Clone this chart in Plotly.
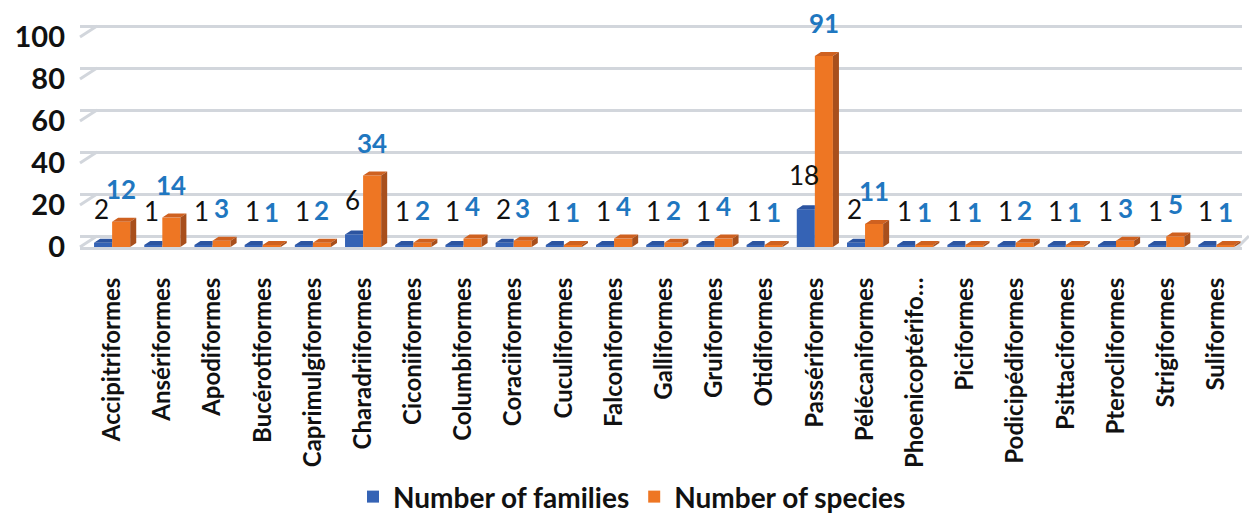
import plotly.graph_objects as go

# Bird orders with the number of families and species recorded in each
orders = [
    "Accipitriformes", "Ansériformes", "Apodiformes", "Bucérotiformes",
    "Caprimulgiformes", "Charadriiformes", "Ciconiiformes", "Columbiformes",
    "Coraciiformes", "Cuculiformes", "Falconiformes", "Galliformes",
    "Gruiformes", "Otidiformes", "Passériformes", "Pélécaniformes",
    "Phoenicoptériformes", "Piciformes", "Podicipédiformes", "Psittaciformes",
    "Pterocliformes", "Strigiformes", "Suliformes",
]
tick_labels = [o if len(o) <= 17 else o[:15] + "…" for o in orders]
families = [2, 1, 1, 1, 1, 6, 1, 1, 2, 1, 1, 1, 1, 1, 18, 2, 1, 1, 1, 1, 1, 1, 1]
species = [12, 14, 3, 1, 2, 34, 2, 4, 3, 1, 4, 2, 4, 1, 91, 11, 1, 1, 2, 1, 3, 5, 1]
y_ticks = [0, 20, 40, 60, 80, 100]

FONT = "Lato"
W, H = 1249, 516
ML, MR, MT, MB = 80, 7, 20, 269
PX_PER_UNIT = 2.1
X_RANGE = [-0.64, 22.51]
Y_RANGE = [0, (H - MT - MB) / PX_PER_UNIT]

BAR_W = 0.36      # width of each front face, in category units
DX = 0.12         # depth offset of the 3-D faces, category units
DY = 1.9          # depth offset of the 3-D faces, value units
WALL_DX, WALL_DY = 17, 11   # back wall offset from the front plane, px

BLUE, BLUE_TOP = "#3563B5", "#2C54A0"
ORANGE, ORANGE_TOP, ORANGE_SIDE = "#EE7623", "#CF6120", "#A84F1C"
LABEL_BLUE = "#1F77C0"
GRID = "#D2D6DC"

xs = list(range(len(orders)))
fig = go.Figure()

fig.add_bar(x=xs, y=families, width=BAR_W, offset=-BAR_W,
            marker=dict(color=BLUE, line=dict(width=0)),
            name="Number of families")
fig.add_bar(x=xs, y=species, width=BAR_W, offset=0,
            marker=dict(color=ORANGE, line=dict(width=0)),
            name="Number of species")


def faces(values, left, clip_right):
    """Top and side faces of each bar as fill polygons separated by gaps."""
    tx, ty, sx, sy = [], [], [], []
    for i, v in enumerate(values):
        x0 = i + left
        x1 = x0 + BAR_W
        if clip_right:
            tx += [x0, x1, x1, x0 + DX, x0, None]
            ty += [v, v, v + DY, v + DY, v, None]
        else:
            tx += [x0, x1, x1 + DX, x0 + DX, x0, None]
            ty += [v, v, v + DY, v + DY, v, None]
            sx += [x1, x1 + DX, x1 + DX, x1, x1, None]
            sy += [0, DY, v + DY, v, 0, None]
    return tx, ty, sx, sy


btx, bty, _, _ = faces(families, -BAR_W, True)
otx, oty, osx, osy = faces(species, 0, False)
for fx, fy, col in [(btx, bty, BLUE_TOP), (otx, oty, ORANGE_TOP), (osx, osy, ORANGE_SIDE)]:
    fig.add_scatter(x=fx, y=fy, mode="lines", fill="toself", fillcolor=col,
                    line=dict(width=0, color=col), hoverinfo="skip",
                    showlegend=False, connectgaps=False)

# Empty trace that keeps the back-wall grid axis alive
fig.add_scatter(x=[None], y=[None], yaxis="y2", showlegend=False, hoverinfo="skip")

# Value labels above each bar
for i, (f, s) in enumerate(zip(families, species)):
    fig.add_annotation(x=i - BAR_W / 2 - 0.03, y=f, yshift=34, text=str(f),
                       showarrow=False, yanchor="middle",
                       font=dict(family=FONT, size=26, color="#111111"))
    fig.add_annotation(x=i + BAR_W / 2, y=s, yshift=33, text=f"<b>{s}</b>",
                       showarrow=False, yanchor="middle",
                       font=dict(family=FONT, size=26, color=LABEL_BLUE))

# Slanted wall/floor edges joining the front plane to the back wall
plot_w = W - ML - MR
plot_h = H - MT - MB
back_x = WALL_DX / plot_w
back_y = WALL_DY / plot_h
span = Y_RANGE[1] - Y_RANGE[0]
for v in y_ticks:
    yf = (v - Y_RANGE[0]) / span
    fig.add_shape(type="line", xref="paper", yref="paper",
                  x0=0, x1=back_x, y0=yf, y1=yf + back_y,
                  line=dict(color=GRID, width=3), layer="between")
floor_end = (1237 - ML) / plot_w
fig.add_shape(type="line", xref="paper", yref="paper",
              x0=floor_end, x1=floor_end + back_x * 0.7, y0=-0.004, y1=back_y,
              line=dict(color=GRID, width=3), layer="between")

shift = WALL_DY / PX_PER_UNIT
fig.update_layout(
    width=W, height=H, autosize=False,
    margin=dict(l=ML, r=MR, t=MT, b=MB, autoexpand=False),
    plot_bgcolor="white", paper_bgcolor="white",
    barmode="overlay",
    font=dict(family=FONT, color="#111111"),
    legend=dict(orientation="h", xref="container", yref="container",
                x=0.506, xanchor="center", y=0.037, yanchor="middle",
                font=dict(family=FONT, size=28, color="#111111", weight="bold"),
                itemwidth=30, traceorder="normal"),
    xaxis=dict(range=X_RANGE, tickmode="array", tickvals=xs, ticktext=tick_labels,
               tickangle=-90, showgrid=False, zeroline=False,
               showline=True, linecolor=GRID, linewidth=3, layer="below traces",
               ticks="", ticklabelstandoff=18, automargin=False,
               tickfont=dict(family=FONT, size=24, color="#111111", weight="bold")),
    yaxis=dict(range=Y_RANGE, tickmode="array", tickvals=y_ticks,
               showgrid=False, zeroline=False, showline=False, ticks="",
               ticklabelstandoff=14, automargin=False,
               tickfont=dict(family=FONT, size=29, color="#111111", weight="bold")),
    yaxis2=dict(overlaying="y", range=[Y_RANGE[0] - shift, Y_RANGE[1] - shift],
                tickmode="array", tickvals=y_ticks, showticklabels=False,
                showgrid=True, gridcolor=GRID, gridwidth=3,
                zeroline=False, showline=False, ticks="", automargin=False),
)

fig.write_html("out.html")
